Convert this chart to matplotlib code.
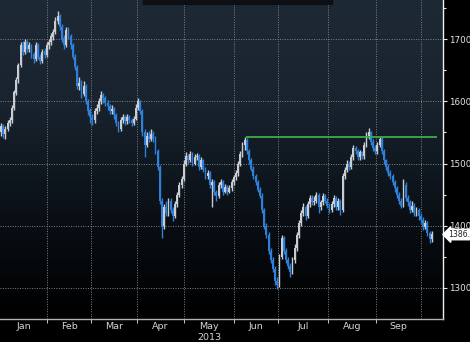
import numpy as np
import pandas as pd
import matplotlib
matplotlib.use("Agg")
import matplotlib.pyplot as plt
from matplotlib.patches import Rectangle
from matplotlib.colors import LinearSegmentedColormap

# daily candles, 2 Jan 2013 - 7 Oct 2013 (trading days, evenly spaced)
opens = [1550,1560,1548,1556,1565,1570,1590,1614,1636,1658,1690,1680,1696,1684,1690,1676,1668,1690,1672,1665,1681,1675,
         1690,1695,1704,1712,1730,1738,1720,1702,1690,1715,1705,1690,1672,1655,1624,1630,1612,1625,1600,1586,
         1575,1570,1584,1590,1600,1610,1605,1598,1592,1585,1588,1578,1565,1556,1570,1575,1568,1575,1570,1565,1572,
         1590,1600,1585,1550,1530,1545,1540,1548,1540,1520,1495,1440,1400,1430,1420,1440,1425,1415,1435,1450,1465,1475,
         1500,1512,1505,1515,1500,1510,1512,1495,1505,1490,1480,1485,1465,1470,1455,1448,1465,1470,1455,1462,1455,1460,1470,
         1478,1485,1500,1515,1530,1538,1520,1505,1492,1480,1470,1458,1448,1425,1400,1385,1360,1345,1330,1312,
         1305,1350,1380,1360,1345,1335,1325,1345,1365,1385,1405,1420,1430,1415,1435,1445,1438,1440,1450,1430,1438,1448,1440,
         1432,1425,1435,1445,1430,1440,1425,1480,1490,1500,1495,1510,1525,1520,1510,1518,1512,1530,1545,1550,1535,1525,
         1520,1530,1540,1520,1505,1495,1485,1480,1470,1460,1450,1440,1432,1465,1445,1438,1425,1432,1420,1425,1415,
         1410,1398,1405,1388,1378]
highs = [1566,1563,1560,1570,1575,1594,1618,1640,1662,1695,1697,1700,1699,1695,1693,1680,1695,1694,1676,1685,1686,1695,
         1700,1710,1716,1735,1745,1740,1725,1706,1720,1720,1709,1694,1676,1658,1640,1634,1632,1628,1604,1590,
         1580,1590,1596,1606,1616,1614,1609,1602,1596,1594,1591,1582,1568,1575,1580,1578,1580,1578,1574,1577,1595,
         1605,1603,1588,1555,1550,1552,1556,1552,1545,1524,1498,1445,1435,1440,1445,1444,1430,1440,1455,1470,1480,1505,
         1518,1516,1520,1518,1515,1517,1515,1510,1508,1494,1490,1488,1475,1474,1458,1470,1475,1473,1467,1465,1465,1475,1482,
         1490,1504,1520,1535,1543,1541,1524,1509,1496,1484,1474,1462,1452,1428,1405,1390,1365,1350,1335,1318,
         1355,1385,1384,1364,1350,1340,1350,1370,1390,1410,1425,1436,1434,1440,1450,1449,1448,1455,1453,1442,1452,1451,1444,
         1436,1440,1450,1448,1444,1443,1485,1495,1505,1504,1515,1530,1528,1524,1522,1521,1535,1550,1557,1553,1539,1530,
         1535,1543,1543,1524,1508,1499,1490,1484,1474,1464,1454,1444,1475,1470,1450,1442,1440,1436,1430,1428,1420,
         1414,1410,1408,1392,1392]
lows = [1545,1541,1540,1552,1560,1566,1586,1610,1630,1655,1674,1676,1680,1680,1670,1662,1665,1668,1660,1662,1670,1672,
        1684,1690,1698,1708,1724,1715,1696,1685,1688,1700,1685,1668,1650,1620,1618,1605,1608,1595,1578,1565,
        1562,1566,1580,1585,1596,1598,1592,1586,1580,1580,1572,1560,1550,1552,1565,1562,1564,1565,1560,1562,1570,
        1586,1580,1545,1510,1526,1535,1537,1535,1515,1490,1435,1380,1395,1415,1415,1420,1408,1412,1430,1446,1460,1472,
        1496,1500,1502,1496,1497,1505,1490,1492,1486,1476,1476,1460,1430,1450,1440,1445,1460,1450,1452,1450,1452,1456,1466,
        1474,1480,1496,1510,1522,1515,1500,1488,1476,1465,1454,1444,1420,1395,1380,1355,1340,1325,1305,1298,
        1302,1346,1355,1340,1330,1318,1322,1340,1360,1380,1400,1416,1410,1412,1430,1433,1434,1436,1420,1426,1434,1436,1428,
        1420,1422,1430,1426,1426,1418,1422,1476,1486,1490,1492,1506,1515,1505,1506,1508,1508,1526,1540,1530,1520,1515,
        1516,1526,1515,1500,1490,1480,1475,1465,1455,1445,1435,1428,1430,1440,1432,1420,1422,1415,1416,1410,1405,
        1394,1395,1384,1372,1374]
closes = [1560,1548,1555,1565,1570,1590,1615,1635,1658,1690,1680,1695,1685,1690,1675,1668,1690,1672,1665,1680,1675,1690,
          1695,1705,1712,1730,1738,1720,1700,1690,1715,1705,1690,1672,1655,1625,1630,1612,1625,1600,1585,1575,
          1570,1585,1590,1600,1610,1605,1598,1592,1585,1588,1578,1565,1555,1570,1575,1568,1575,1570,1565,1572,1590,
          1600,1585,1550,1530,1545,1540,1548,1540,1520,1495,1440,1400,1430,1420,1440,1425,1415,1435,1450,1465,1475,1500,
          1512,1505,1515,1500,1510,1512,1495,1505,1490,1480,1485,1465,1470,1455,1448,1465,1470,1455,1462,1455,1460,1470,1478,
          1485,1500,1515,1530,1538,1520,1505,1492,1480,1470,1458,1448,1425,1400,1385,1360,1345,1330,1312,1305,
          1350,1380,1360,1345,1335,1325,1345,1365,1385,1405,1420,1430,1415,1435,1445,1438,1440,1450,1430,1438,1448,1440,1432,
          1425,1435,1445,1430,1440,1425,1480,1490,1500,1495,1510,1525,1520,1510,1518,1512,1530,1545,1550,1535,1525,1520,
          1530,1540,1520,1505,1495,1485,1480,1470,1460,1450,1440,1432,1465,1445,1438,1425,1432,1420,1425,1415,1410,
          1398,1405,1388,1378,1386]

dates = pd.bdate_range("2013-01-02", periods=len(closes))
months = ["Jan", "Feb", "Mar", "Apr", "May", "Jun", "Jul", "Aug", "Sep"]
yticks = [1300, 1400, 1500, 1600, 1700]
resistance = 1542
last_label = "1386."

o = np.array(opens, float)
h = np.array(highs, float)
l = np.array(lows, float)
c = np.array(closes, float)
idx = np.arange(len(c))

fig = plt.figure(figsize=(4.7, 3.42), dpi=100, facecolor="black")
ax = fig.add_axes([0, 0.067, 0.9426, 0.933])
ax.set_facecolor("black")

# background gradient
grad = np.linspace(0, 1, 256).reshape(-1, 1)
cmap = LinearSegmentedColormap.from_list("bg", ["#000000", "#0a1016", "#18232e", "#1d2935"])
ax.imshow(grad, aspect="auto", cmap=cmap, extent=[0, 1, 0, 1], transform=ax.transAxes,
          origin="lower", zorder=0)

# month boundaries
starts = [int(np.where(dates.month == m)[0][0]) for m in range(1, 11)]
for s in starts[1:]:
    ax.axvline(s - 0.7, color="#7d8388", lw=0.7, ls=(0, (1, 1.5)), zorder=1)
for yv in yticks:
    ax.axhline(yv, color="#7d8388", lw=0.7, ls=(0, (1, 1.5)), zorder=1)

up = c >= o
colors = np.where(up, "#c9ccd0", "#2f80db")
ax.vlines(idx, l, h, colors=colors, lw=1.0, zorder=2)
body = np.maximum(np.abs(c - o), 2.0)
ax.bar(idx, body, bottom=np.minimum(o, c), width=0.85, color=colors, lw=0, zorder=3)

# resistance line from June peak
ax.hlines(resistance, 112.6, 200.5, color="#3fae45", lw=1.3, zorder=4)

ax.set_xlim(-0.46, 203.2)
ax.set_ylim(1250, 1763)

ax.yaxis.tick_right()
ax.set_yticks(yticks)
ax.set_yticks([1350, 1450, 1550, 1650, 1750], minor=True)
ax.tick_params(axis="y", which="both", colors="#e6e6e6", labelsize=6.3, length=3, width=0.8,
               direction="out", pad=1)
ax.tick_params(axis="y", which="minor", length=2)
ax.set_xticks([s - 0.7 for s in starts[1:-1]])
ax.set_xticklabels([])
ax.tick_params(axis="x", colors="#c8c8c8", length=3, width=0.7, direction="out")

for sp in ["top", "left"]:
    ax.spines[sp].set_visible(False)
ax.spines["right"].set_color("#f0f0f0")
ax.spines["right"].set_linewidth(1.0)
ax.spines["bottom"].set_color("#b0b0b0")
ax.spines["bottom"].set_linewidth(1.0)

for k, m in enumerate(months):
    mid = (starts[k] + starts[k + 1]) / 2 - 0.7
    ax.text(mid, -0.01, m, transform=ax.get_xaxis_transform(), ha="center", va="top",
            color="#d6d6d6", fontsize=6.8)
ax.text((starts[4] + starts[5]) / 2 - 0.7, -0.045, "2013", transform=ax.get_xaxis_transform(),
        ha="center", va="top", color="#d6d6d6", fontsize=6.8)

# top legend strip
ax.add_patch(Rectangle((143 / 443, 1 - 4 / 319), (332 - 143) / 443, 4 / 319, transform=ax.transAxes,
                       color="#0c1015", zorder=5, clip_on=False))

# last price tag
ax.annotate(last_label, xy=(1.012, c[-1]), xycoords=("axes fraction", "data"), ha="left", va="center",
            fontsize=5.6, color="#202020", annotation_clip=False,
            bbox=dict(boxstyle="larrow,pad=0.1", fc="white", ec="white"))

fig.savefig("out.png", dpi=100, facecolor="black")
